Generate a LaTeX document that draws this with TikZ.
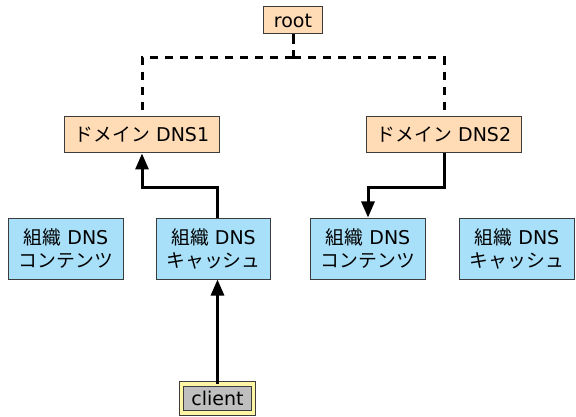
\documentclass[tikz,border=0pt]{standalone}
\usepackage{fontspec}
\setmainfont{DejaVu Sans}
\newfontfamily\jp{Noto Sans CJK JP}[Scale=0.99]
\usetikzlibrary{arrows.meta}
\definecolor{domfill}{RGB}{255,219,182}
\definecolor{orgfill}{RGB}{168,224,250}
\definecolor{cliring}{RGB}{255,246,165}
\definecolor{edge}{RGB}{60,60,60}
\tikzset{
    box/.style = {draw=edge, line width=1pt, inner xsep=10pt, align=center,
                  font=\fontsize{19}{23}\selectfont},
    rootbox/.style = {box, fill=domfill, minimum height=27pt, inner ysep=2pt},
    dombox/.style = {box, fill=domfill, minimum height=36pt},
    orgbox/.style = {box, fill=orgfill, minimum height=61pt},
    clibox/.style = {box, fill=gray!50, double=cliring, double distance=3.5pt,
                     minimum height=29pt, inner ysep=2pt},
    tree/.style = {line width=3pt, dash pattern=on 8pt off 7pt},
    link/.style = {line width=3pt, -{Triangle[length=16pt,width=13pt]}}
}
\begin{document}
\begin{tikzpicture}[x=1pt, y=-1pt]
    \useasboundingbox (0,0) rectangle (576,417);
    \node [rootbox] (root) at (293,20.5) {root};
    \node [dombox] (dns1) at (142,135) {{\jp ドメイン} DNS1};
    \node [dombox] (dns2) at (444,135) {{\jp ドメイン} DNS2};
    \node [orgbox] (cont1) at (66,248.5) {{\jp 組織} DNS\\{\jp コンテンツ}};
    \node [orgbox] (cache1) at (213.5,248.5) {{\jp 組織} DNS\\{\jp キャッシュ}};
    \node [orgbox] (cont2) at (368,248.5) {{\jp 組織} DNS\\{\jp コンテンツ}};
    \node [orgbox] (cache2) at (517,248.5) {{\jp 組織} DNS\\{\jp キャッシュ}};
    \node [clibox] (client) at (217.5,398.5) {client};
    \coordinate (top) at (293,58);
    \coordinate (low) at (0,187.5);
    % delegation tree
    \draw [line width=3pt] (root) -- (root.south |- 0,44);
    \draw [tree] (top) -- (root.south |- 0,44);
    \draw [tree] (top) -| (dns1);
    \draw [tree] (top) -| (dns2);
    % query path
    \draw [link] (client) -- (client |- cache1.south);
    \draw [link] (client |- cache1.north) |- (low -| dns1) -- (dns1);
    \draw [link] (dns2) |- (low -| cont2) -- (cont2);
\end{tikzpicture}
\end{document}
